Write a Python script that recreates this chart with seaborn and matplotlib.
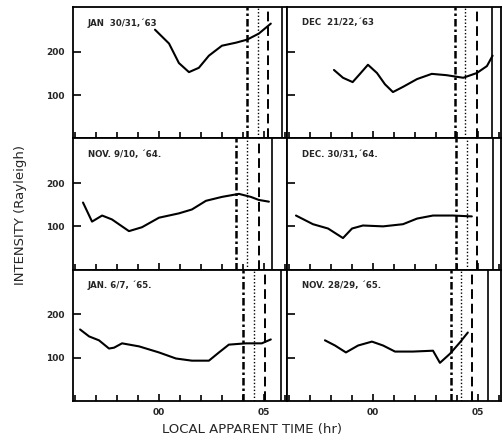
import matplotlib
matplotlib.use("Agg")
import matplotlib.pyplot as plt
import numpy as np
import pandas as pd
import seaborn as sns

# panel titles, row by row
titles = ["JAN  30/31,\u00b463", "DEC  21/22,\u00b463",
          "NOV. 9/10, \u00b464.", "DEC. 30/31,\u00b464.",
          "JAN. 6/7, \u00b465.", "NOV. 28/29, \u00b465."]

# local apparent time (hr, relative to midnight) and intensity (R)
t_jan63 = [-0.19, 0.48, 0.95, 1.43, 1.9, 2.38, 3.0, 3.67, 4.2, 4.76, 5.33]
i_jan63 = [251, 219, 174, 153, 163, 191, 214, 221, 228, 242, 265]

t_dec63 = [-1.86, -1.43, -0.97, -0.62, -0.24, 0.19, 0.57, 0.95, 1.43, 2.1, 2.8, 3.5, 4.3, 4.95, 5.43, 5.7]
i_dec63 = [158, 140, 130, 149, 170, 151, 125, 107, 119, 137, 149, 146, 140, 151, 167, 191]

t_nov64 = [-3.62, -3.19, -2.71, -2.24, -1.43, -0.81, 0.0, 0.95, 1.57, 2.24, 3.0, 3.81, 4.38, 4.76, 5.24]
i_nov64 = [155, 111, 125, 116, 89, 98, 120, 130, 139, 159, 168, 175, 168, 161, 157]

t_dec64 = [-3.67, -2.86, -2.14, -1.43, -1.0, -0.48, 0.48, 1.43, 2.1, 2.86, 3.81, 4.71]
i_dec64 = [125, 105, 95, 73, 95, 102, 100, 105, 118, 125, 125, 123]

t_jan65 = [-3.76, -3.33, -2.86, -2.38, -2.14, -1.76, -0.95, 0.0, 0.81, 1.57, 2.38, 2.86, 3.33, 4.14, 4.9, 5.33]
i_jan65 = [165, 149, 140, 121, 123, 133, 126, 112, 98, 93, 93, 112, 130, 133, 133, 142]

t_nov65 = [-2.29, -1.81, -1.29, -0.71, -0.05, 0.48, 1.05, 1.9, 2.86, 3.19, 3.67, 4.14, 4.52]
i_nov65 = [140, 128, 112, 128, 137, 128, 114, 114, 116, 88, 109, 135, 158]

times = [t_jan63, t_dec63, t_nov64, t_dec64, t_jan65, t_nov65]
intens = [i_jan63, i_dec63, i_nov64, i_dec64, i_jan65, i_nov65]

# twilight markers per panel: dash-dot, dotted, dashed, solid (hr)
marks = [[4.2, 4.7, 5.2, 5.86], [3.9, 4.4, 4.95, 5.67],
         [3.67, 4.2, 4.76, 5.4], [3.95, 4.47, 4.95, 5.71],
         [4.0, 4.52, 5.05, 5.8], [3.71, 4.2, 4.7, 5.5]]

hours = list(range(-4, 7))
label_hours = [0, 5]
y_ticks = [100, 200]

sns.set_style("ticks")
plt.rcParams["font.family"] = ["DejaVu Sans"]

fig, axes = plt.subplots(3, 2, figsize=(5.03, 4.47), dpi=100)
fig.subplots_adjust(left=0.145, right=0.996, top=0.984, bottom=0.103,
                    hspace=0, wspace=0)

styles = [dict(ls=(0, (3, 1.2, 1.0, 1.2)), lw=1.8),
          dict(ls=(0, (1, 1.5)), lw=1.0),
          dict(ls=(0, (5, 2.5)), lw=1.4),
          dict(ls="-", lw=1.2)]

for k, ax in enumerate(axes.flat):
    df = pd.DataFrame({"t": times[k], "I": intens[k]})
    sns.lineplot(data=df, x="t", y="I", ax=ax, color="black", lw=1.5,
                 estimator=None, sort=False)
    for xv, st in zip(marks[k], styles):
        ax.axvline(xv, color="black", **st)
    ax.set_xlim(-4.1, 6.1)
    ax.set_ylim(0, 303)
    ax.set_xlabel("")
    ax.set_ylabel("")
    ax.set_xticks(label_hours)
    ax.set_xticks([h for h in hours if h not in label_hours], minor=True)
    ax.set_yticks(y_ticks)
    ax.tick_params(which="both", direction="in", color="black", width=1.2,
                   bottom=True, left=True, top=False, right=False)
    ax.tick_params(axis="x", which="major", length=5, pad=5)
    ax.tick_params(axis="x", which="minor", length=4)
    ax.tick_params(axis="y", which="major", length=6, pad=6)
    row, col = divmod(k, 2)
    if row == 2:
        ax.set_xticklabels(["%02d" % h for h in label_hours], fontsize=6.5,
                           fontweight="bold")
    else:
        ax.set_xticklabels([])
    if col == 0:
        ax.set_yticklabels([str(v) for v in y_ticks], fontsize=6.5,
                           fontweight="bold")
    else:
        ax.set_yticklabels([])
    for s in ax.spines.values():
        s.set_linewidth(1.3)
        s.set_color("black")
        s.set_visible(True)
    ax.text(0.07, 0.88, titles[k], transform=ax.transAxes, fontsize=6.2,
            fontweight="bold", ha="left", va="center")

fig.text(0.04, 0.52, "INTENSITY (Rayleigh)", rotation=90, ha="center",
         va="center", fontsize=9.5)
fig.text(0.5, 0.04, "LOCAL APPARENT TIME (hr)", ha="center", va="center",
         fontsize=9.5)

fig.savefig("out.png", dpi=100)
